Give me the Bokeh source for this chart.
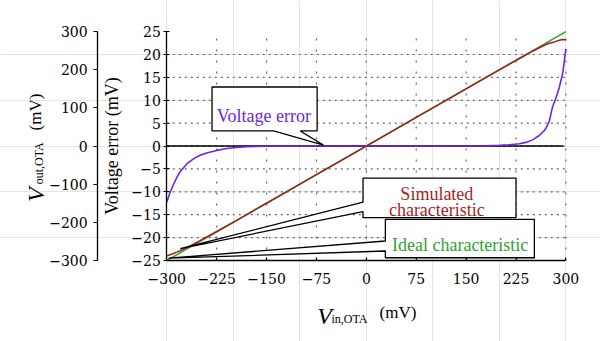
import math
from bokeh.plotting import figure
from bokeh.models import Range1d, LinearAxis, FixedTicker, Label, CustomJSTickFormatter
from bokeh.embed import file_html
from bokeh.resources import INLINE

# ---------------- data ----------------
vin = [-300, -295, -290, -285, -280, -270, -260, -250, -240, -225, -210, -195,
       -180, -165, -150, -120, -75, 0, 75, 150, 180, 200, 215, 230, 240, 250,
       260, 267, 270, 275, 280, 285, 290, 295, 300]
voltage_error = [-12.2, -10.1, -8.4, -6.9, -5.6, -3.9, -2.8, -2.0, -1.5, -0.95, -0.55, -0.3,
                 -0.15, -0.08, -0.04, -0.01, 0.0, 0.0, 0.0, 0.01, 0.05, 0.15, 0.3, 0.5, 0.8, 1.35,
                 2.3, 3.3, 3.9, 5.4, 8.6, 10.5, 12.8, 15.8, 21.2]
vout_simulated = [-287.8, -284.9, -281.6, -278.1, -274.4, -266.1, -257.2, -248.0, -238.5, -224.05,
                  -209.45, -194.7, -179.85, -164.92, -149.96, -119.99, -75.0, 0.0, 75.0, 149.99,
                  179.95, 199.85, 214.7, 229.5, 239.2, 248.65, 257.7, 263.7, 266.1, 269.6, 271.4,
                  274.5, 277.2, 279.2, 278.8]
vin_ideal = [-300, 300]
vout_ideal = [-300, 300]
zero_x = [-300, 296]
zero_y = [0, 0]

x_ticks = [-300, -225, -150, -75, 0, 75, 150, 225, 300]
x_tick_labels = ["\u2212300", "\u2212225", "\u2212150", "\u221275", "0", "75", "150", "225", "300"]
err_ticks = [-25, -20, -15, -10, -5, 0, 5, 10, 15, 20, 25]
err_tick_labels = ["\u221225", "\u221220", "\u221215", "\u221210", "\u22125", "0", "5", "10", "15", "20", "25"]
vout_ticks = [-300, -200, -100, 0, 100, 200, 300]
vout_tick_labels = ["\u2212300", "\u2212200", "\u2212100", "0", "100", "200", "300"]
xgrid_ticks = [-225, -150, -75, 0, 75, 150, 225, 300]
ygrid_ticks = [-20, -15, -10, -5, 0, 5, 10, 15, 20]

FONT = "Liberation Serif"
TICK_FONT = "DejaVu Serif"
PURPLE = "#6a26e0"
RED = "#a11f1f"
GREEN = "#2fa32f"

# view window around the plotted region (room for the axes and their titles)
X_VIEW = (-550, 352)
Y_VIEW = (-42.7, 31.8)
VOUT_PER_ERR = 12.0
VOUT_AXIS_X = -404

def fmt(ticks, labels):
    return CustomJSTickFormatter(args=dict(vals=ticks, labs=labels), code="""
        for (let i = 0; i < vals.length; i++) { if (Math.abs(vals[i] - tick) < 1e-9) return labs[i]; }
        return "";
    """)

p = figure(width=600, height=341, x_range=Range1d(*X_VIEW), y_range=Range1d(*Y_VIEW),
           output_backend="svg", toolbar_location=None,
           x_axis_location=None, y_axis_location=None,
           min_border_left=0, min_border_right=0, min_border_top=0, min_border_bottom=0)
p.outline_line_color = None
p.background_fill_color = "white"
p.border_fill_color = "white"
p.extra_y_ranges = {"vout": Range1d(Y_VIEW[0] * VOUT_PER_ERR, Y_VIEW[1] * VOUT_PER_ERR)}

# dotted grid, bounded to the plot region (one dashed line per grid position)
for t in xgrid_ticks:
    p.line([t, t], [-25, 25], line_color="#666666", line_width=1.2, line_dash="2 9")
for t in ygrid_ticks:
    p.line([-300, 300], [t, t], line_color="#666666", line_width=1.2, line_dash="2 4")

def style_axis(ax, tin, tout, standoff):
    ax.major_label_text_font = TICK_FONT
    ax.major_label_text_font_size = "14px"
    ax.major_label_text_color = "black"
    ax.major_tick_in = tin
    ax.major_tick_out = tout
    ax.minor_tick_in = 0
    ax.minor_tick_out = 0
    ax.major_label_standoff = standoff
    ax.axis_line_width = 1.3
    ax.axis_line_color = "black"
    ax.major_tick_line_color = "black"
    ax.major_tick_line_width = 1.2

# bottom axis (V_in)
xa = LinearAxis(ticker=FixedTicker(ticks=x_ticks), formatter=fmt(x_ticks, x_tick_labels),
                fixed_location=-25, bounds=(-300, 300))
style_axis(xa, 3, 0, 13)
p.add_layout(xa, "below")

# main left axis (voltage error)
ya = LinearAxis(ticker=FixedTicker(ticks=err_ticks), formatter=fmt(err_ticks, err_tick_labels),
                fixed_location=-300, bounds=(-25, 25))
style_axis(ya, 3, 3, 3)
ya.axis_label = "Voltage error (mV)"
ya.axis_label_text_font = FONT
ya.axis_label_text_font_size = "18px"
ya.axis_label_text_font_style = "normal"
ya.axis_label_text_color = "black"
ya.axis_label_standoff = 6
p.add_layout(ya, "left")

# outer left axis (V_out,OTA)
va = LinearAxis(y_range_name="vout", ticker=FixedTicker(ticks=vout_ticks),
                formatter=fmt(vout_ticks, vout_tick_labels),
                fixed_location=VOUT_AXIS_X, bounds=(-300, 300))
style_axis(va, 0, 4, 6)
p.add_layout(va, "left")

# curves
p.line(zero_x, zero_y, line_color="black", line_width=1.4)
p.line(vin, voltage_error, line_color=PURPLE, line_width=1.6)
p.line(vin_ideal, vout_ideal, line_color=GREEN, line_width=1.5, y_range_name="vout")
p.line(vin, vout_simulated, line_color=RED, line_width=1.5, y_range_name="vout")

# callouts (annotation geometry, in axis units)
def callout_left(x0, x1, yt, yb, b1, b2, tip):
    xs = [x0, x1, x1, x0, x0, tip[0], x0]
    ys = [yt, yt, yb, yb, b2, tip[1], b1]
    p.patch(xs, ys, fill_color="white", line_color="black", line_width=1.3)

ve_xs = [-232, -74, -74, -99.4, -64.5, -139.4, -232]
ve_ys = [12.9, 12.9, 3.3, 3.3, 0.2, 3.3, 3.3]
p.patch(ve_xs, ve_ys, fill_color="white", line_color="black", line_width=1.3)
callout_left(-5, 225, -7.0, -15.65, -12.23, -14.34, (-279.7, -22.4))
callout_left(28.6, 252.6, -16.0, -24.4, -20.74, -22.93, (-297.3, -24.5))

def lab(x, y, text, color, size, style="normal", align="center", angle=0.0):
    p.add_layout(Label(x=x, y=y, text=text, text_color=color, text_font=FONT,
                       text_font_size=size, text_font_style=style, text_align=align,
                       text_baseline="alphabetic", angle=angle))

lab(-154, 6.6, "Voltage error", PURPLE, "18px")
lab(106, -10.5, "Simulated", RED, "18px")
lab(106, -13.95, "characteristic", RED, "18px")
lab(141, -21.6, "Ideal characteristic", GREEN, "18px")

# axis titles with subscripts
lab(-73.9, -37.2, "V", "black", "24px", style="italic", align="left")
lab(-52.4, -37.74, "in,OTA", "black", "12px", align="left")
lab(19.8, -36.3, "(mV)", "black", "17px", align="left")

lab(-496.0, -12.24, "V", "black", "24px", style="italic", align="left", angle=math.pi / 2)
lab(-491.5, -8.37, "out,OTA", "black", "12px", align="left", angle=math.pi / 2)
lab(-497.5, 3.42, "(mV)", "black", "17px", align="left", angle=math.pi / 2)

open("out.html", "w").write(file_html(p, INLINE))
